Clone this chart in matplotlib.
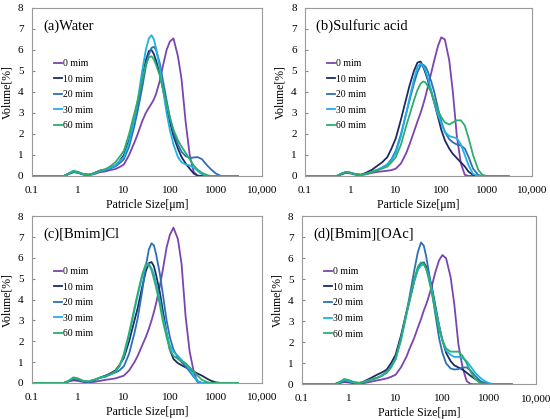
import matplotlib
matplotlib.use('Agg')
import matplotlib.pyplot as plt

# particle size grid [um]
size_um = [0.1, 0.5, 0.65, 0.8, 1.0, 1.3, 1.7, 2.2, 3.0, 4.0, 5.0, 6.5, 8.0,
           10, 13, 17, 20, 25, 30, 35, 40, 45, 50, 60, 70, 85, 100, 120, 150,
           180, 220, 270, 330, 400, 500, 650, 800, 1000, 1300, 3000]

series_names = ['0 mim', '10 mim', '20 mim', '30 mim', '60 mim']
series_colors = ['#7B44AE', '#1C2B62', '#2D70B5', '#1DB2E6', '#2DAE6C']

panel_titles = ['(a)Water', '(b)Sulfuric acid', '(c)[Bmim]Cl', '(d)[Bmim][OAc]']
x_labels = ['Patricle Size[\u03bcm]', 'Particle Size[\u03bcm]',
            'Particle Size[\u03bcm]', 'Particle Size[\u03bcm]']

# (a) Water
water_0 = [0, 0, 0.1, 0.18, 0.15, 0.07, 0.04, 0.08, 0.18, 0.22, 0.28, 0.33, 0.42,
           0.55, 1.0, 1.6, 2.0, 2.6, 3.0, 3.25, 3.45, 3.65, 3.9, 4.5, 5.2, 6.0, 6.4,
           6.55, 5.7, 4.6, 2.6, 1.0, 0.2, 0, 0, 0, 0, 0, 0, 0]
water_10 = [0, 0, 0.12, 0.2, 0.17, 0.08, 0.06, 0.12, 0.25, 0.3, 0.38, 0.5, 0.7,
            1.0, 1.7, 2.8, 3.5, 4.6, 5.5, 5.95, 6.0, 5.8, 5.5, 4.9, 4.2, 3.3, 2.6,
            1.9, 1.3, 0.9, 0.6, 0.35, 0.12, 0.02, 0, 0, 0, 0, 0, 0]
water_20 = [0, 0, 0.12, 0.2, 0.17, 0.08, 0.06, 0.12, 0.25, 0.3, 0.36, 0.45, 0.6,
            0.8, 1.4, 2.4, 3.1, 4.2, 5.2, 5.8, 6.1, 6.15, 6.0, 5.4, 4.6, 3.6, 2.8,
            2.1, 1.5, 1.15, 0.95, 0.85, 0.88, 0.9, 0.8, 0.5, 0.3, 0.12, 0, 0]
water_30 = [0, 0, 0.12, 0.22, 0.18, 0.08, 0.05, 0.1, 0.22, 0.3, 0.38, 0.5, 0.7,
            0.9, 1.6, 2.8, 3.6, 5.0, 6.0, 6.55, 6.7, 6.5, 6.1, 5.2, 4.2, 3.0, 2.2,
            1.5, 0.9, 0.65, 0.55, 0.5, 0.4, 0.25, 0.08, 0, 0, 0, 0, 0]
water_60 = [0, 0, 0.14, 0.25, 0.2, 0.1, 0.07, 0.12, 0.25, 0.33, 0.45, 0.65, 0.9,
            1.2, 2.0, 3.0, 3.6, 4.6, 5.3, 5.65, 5.7, 5.55, 5.3, 4.8, 4.2, 3.4, 2.8,
            2.2, 1.7, 1.4, 1.1, 0.8, 0.5, 0.3, 0.15, 0.04, 0, 0, 0, 0]

# (b) Sulfuric acid
acid_0 = [0, 0, 0.08, 0.15, 0.12, 0.06, 0.05, 0.08, 0.15, 0.2, 0.22, 0.25, 0.28,
          0.35, 0.6, 1.1, 1.5, 2.1, 2.6, 3.0, 3.4, 3.8, 4.2, 4.9, 5.5, 6.2, 6.6,
          6.5, 5.5, 4.0, 1.9, 0.6, 0.05, 0, 0, 0, 0, 0, 0, 0]
acid_10 = [0, 0, 0.1, 0.18, 0.15, 0.08, 0.06, 0.15, 0.3, 0.5, 0.65, 0.9, 1.3,
           1.8, 2.7, 3.7, 4.3, 5.0, 5.4, 5.45, 5.2, 4.9, 4.6, 4.0, 3.5, 2.8, 2.2,
           1.7, 1.3, 1.05, 0.85, 0.65, 0.45, 0.2, 0.05, 0, 0, 0, 0, 0]
acid_20 = [0, 0, 0.12, 0.18, 0.15, 0.08, 0.05, 0.1, 0.2, 0.3, 0.4, 0.55, 0.8,
           1.2, 2.0, 3.0, 3.6, 4.4, 4.95, 5.25, 5.3, 5.2, 5.0, 4.5, 4.0, 3.2, 2.6,
           2.1, 1.75, 1.6, 1.5, 1.45, 1.3, 0.9, 0.35, 0.05, 0, 0, 0, 0]
acid_30 = [0, 0, 0.12, 0.18, 0.15, 0.08, 0.05, 0.1, 0.2, 0.3, 0.4, 0.55, 0.75,
           1.1, 1.9, 3.0, 3.7, 4.6, 5.2, 5.35, 5.25, 5.0, 4.7, 4.1, 3.5, 2.9, 2.5,
           2.1, 1.9, 1.85, 1.8, 1.5, 1.0, 0.5, 0.1, 0, 0, 0, 0, 0]
acid_60 = [0, 0, 0.12, 0.2, 0.16, 0.08, 0.06, 0.1, 0.2, 0.28, 0.35, 0.45, 0.65,
           0.9, 1.5, 2.4, 2.9, 3.6, 4.1, 4.4, 4.5, 4.45, 4.3, 4.0, 3.6, 3.1, 2.8,
           2.55, 2.45, 2.55, 2.65, 2.65, 2.4, 1.8, 1.0, 0.3, 0.05, 0, 0, 0]

# (c) [Bmim]Cl
cl_0 = [0, 0, 0.08, 0.12, 0.1, 0.05, 0.03, 0.05, 0.1, 0.15, 0.18, 0.22, 0.28,
        0.35, 0.6, 1.0, 1.3, 1.8, 2.2, 2.6, 3.0, 3.4, 3.8, 4.6, 5.4, 6.5, 7.1,
        7.45, 6.9, 5.7, 3.2, 1.5, 0.55, 0.05, 0, 0, 0, 0, 0, 0]
cl_10 = [0, 0, 0.1, 0.2, 0.16, 0.08, 0.05, 0.12, 0.25, 0.35, 0.45, 0.6, 0.85,
         1.2, 2.0, 3.0, 3.6, 4.6, 5.35, 5.75, 5.8, 5.6, 5.2, 4.4, 3.5, 2.4, 1.6,
         1.15, 0.95, 0.85, 0.75, 0.65, 0.55, 0.45, 0.35, 0.2, 0.1, 0.03, 0, 0]
cl_20 = [0, 0, 0.1, 0.2, 0.17, 0.08, 0.05, 0.12, 0.25, 0.35, 0.4, 0.5, 0.6,
         0.8, 1.4, 2.4, 3.1, 4.4, 5.6, 6.4, 6.7, 6.6, 6.2, 5.3, 4.3, 3.0, 2.2,
         1.6, 1.2, 1.0, 0.8, 0.55, 0.3, 0.08, 0, 0, 0, 0, 0, 0]
cl_30 = [0, 0, 0.12, 0.25, 0.2, 0.1, 0.07, 0.14, 0.25, 0.3, 0.4, 0.55, 0.8,
         1.3, 2.3, 3.5, 4.2, 5.1, 5.6, 5.7, 5.5, 5.2, 4.8, 4.0, 3.2, 2.4, 1.8,
         1.5, 1.3, 1.1, 0.9, 0.65, 0.35, 0.1, 0, 0, 0, 0, 0, 0]
cl_60 = [0, 0, 0.12, 0.27, 0.22, 0.1, 0.08, 0.15, 0.25, 0.3, 0.4, 0.55, 0.8,
         1.4, 2.4, 3.6, 4.3, 5.2, 5.7, 5.7, 5.4, 5.0, 4.6, 3.8, 3.0, 2.2, 1.6,
         1.3, 1.15, 1.05, 0.95, 0.75, 0.55, 0.35, 0.15, 0.04, 0, 0, 0, 0]

# (d) [Bmim][OAc]
oac_0 = [0, 0, 0.06, 0.1, 0.08, 0.04, 0.03, 0.06, 0.12, 0.18, 0.22, 0.28, 0.35,
         0.45, 0.8, 1.3, 1.7, 2.2, 2.7, 3.1, 3.5, 3.8, 4.1, 4.7, 5.3, 5.9, 6.15,
         6.0, 5.1, 3.8, 1.9, 0.8, 0.15, 0.01, 0, 0, 0, 0, 0, 0]
oac_10 = [0, 0, 0.08, 0.15, 0.12, 0.06, 0.05, 0.15, 0.3, 0.45, 0.55, 0.7, 1.0,
          1.4, 2.3, 3.4, 4.0, 4.9, 5.5, 5.75, 5.8, 5.6, 5.3, 4.6, 3.8, 2.8, 2.1,
          1.5, 1.1, 0.9, 0.8, 0.7, 0.55, 0.4, 0.25, 0.12, 0.05, 0, 0, 0]
oac_20 = [0, 0, 0.08, 0.15, 0.12, 0.06, 0.05, 0.1, 0.22, 0.3, 0.4, 0.6, 0.85,
          1.2, 2.2, 3.4, 4.2, 5.4, 6.3, 6.75, 6.6, 6.1, 5.5, 4.4, 3.4, 2.2, 1.5,
          1.0, 0.75, 0.7, 0.72, 0.8, 0.8, 0.65, 0.4, 0.15, 0.04, 0, 0, 0]
oac_30 = [0, 0, 0.1, 0.2, 0.16, 0.08, 0.06, 0.12, 0.22, 0.3, 0.4, 0.55, 0.8,
          1.2, 2.1, 3.3, 4.0, 4.9, 5.45, 5.65, 5.7, 5.5, 5.2, 4.5, 3.7, 2.8, 2.1,
          1.6, 1.4, 1.3, 1.3, 1.25, 1.1, 0.85, 0.55, 0.3, 0.15, 0.05, 0, 0]
oac_60 = [0, 0, 0.12, 0.25, 0.2, 0.1, 0.07, 0.12, 0.22, 0.3, 0.4, 0.55, 0.8,
          1.2, 2.1, 3.3, 4.0, 5.0, 5.6, 5.8, 5.75, 5.5, 5.1, 4.3, 3.5, 2.6, 2.1,
          1.7, 1.55, 1.55, 1.55, 1.35, 1.0, 0.6, 0.25, 0.05, 0, 0, 0, 0]

panel_data = [
    [water_0, water_10, water_20, water_30, water_60],
    [acid_0, acid_10, acid_20, acid_30, acid_60],
    [cl_0, cl_10, cl_20, cl_30, cl_60],
    [oac_0, oac_10, oac_20, oac_30, oac_60],
]

plt.rcParams['font.family'] = ['Liberation Serif', 'DejaVu Serif']

fig = plt.figure(figsize=(5.5, 4.19), dpi=100)

# axes rectangles in figure fractions
rects = [
    [0.058, 0.580, 0.418, 0.401],
    [0.5545, 0.580, 0.413, 0.401],
    [0.058, 0.086, 0.418, 0.398],
    [0.549, 0.083, 0.4255, 0.401],
]

for i in range(4):
    ax = fig.add_axes(rects[i])
    for k in range(5):
        ax.plot(size_um, panel_data[i][k], color=series_colors[k], lw=1.3,
                label=series_names[k])
    ax.set_xscale('log')
    ax.set_xlim(0.1, 10000)
    ax.set_ylim(0, 8)
    ax.set_xticks([0.1, 1, 10, 100, 1000, 10000])
    ax.set_xticklabels(['0.1', '1', '10', '100', '1000', '10,000'])
    ax.minorticks_off()
    ax.set_yticks(range(9))
    ax.tick_params(axis='x', length=0, labelsize=8, pad=7)
    ax.tick_params(axis='y', direction='in', length=2.5, labelsize=8,
                   color='#888888', pad=6)
    for s in ax.spines.values():
        s.set_color('#999999')
        s.set_linewidth(0.8)
    ax.set_xlabel(x_labels[i], fontsize=8.5, labelpad=3)
    ax.set_ylabel('Volume[%]', fontsize=8.5, labelpad=3)
    ax.text(0.048, 0.893, panel_titles[i], transform=ax.transAxes,
            fontsize=10.5, va='center', ha='left')
    ax.legend(loc='upper left', bbox_to_anchor=(0.075, 0.725), frameon=False,
              fontsize=7, handlelength=0.8, handletextpad=0.1,
              labelspacing=0.68, borderpad=0)

fig.savefig('out.png', dpi=100)
